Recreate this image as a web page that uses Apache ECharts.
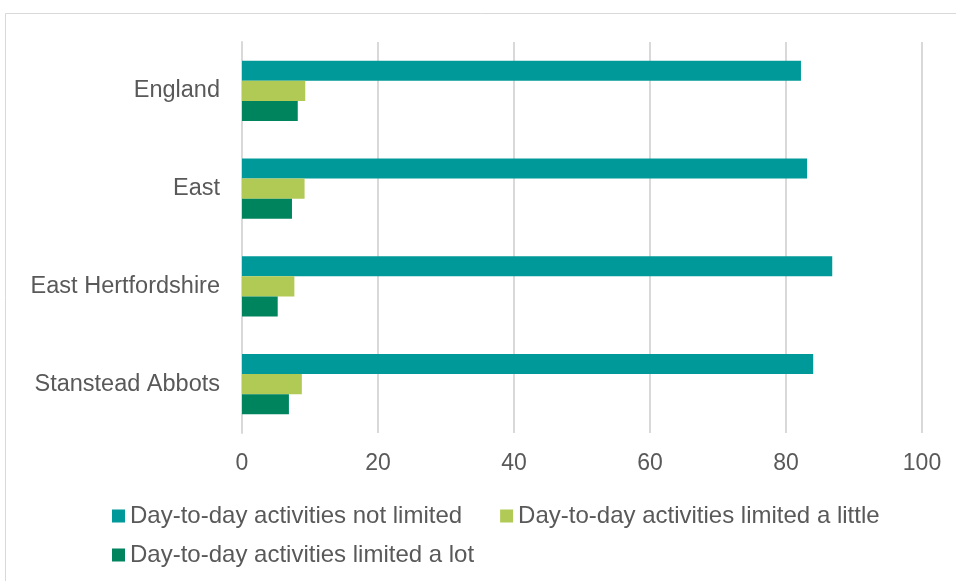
<!DOCTYPE html>
<html><head><meta charset="utf-8">
<script src="https://cdn.jsdelivr.net/npm/echarts@6/dist/echarts.min.js"></script>
<style>html,body{margin:0;padding:0;background:#fff}#c{width:956px;height:581px}</style>
</head><body><div id="c"></div>
<script>
var categories = ['England', 'East', 'East Hertfordshire', 'Stanstead Abbots'];
var seriesNames = ['Day-to-day activities not limited', 'Day-to-day activities limited a little', 'Day-to-day activities limited a lot'];
var notLimited = [82.2, 83.1, 86.8, 84.0];
var limitedLittle = [9.3, 9.2, 7.7, 8.8];
var limitedLot = [8.2, 7.35, 5.25, 6.9];
var xTicks = [0, 20, 40, 60, 80, 100];
var colors = ['#009999', '#b1ca55', '#00845e'];

var chart = echarts.init(document.getElementById('c'));
var font = '"Liberation Sans", Arial, sans-serif';
var legendText = {fontSize: 24, color: '#595959', fontFamily: font};
chart.setOption({
  animation: false,
  textStyle: {fontFamily: font},
  graphic: [{type: 'rect', shape: {x: 5.5, y: 13.5, width: 1000, height: 1000}, style: {fill: 'none', stroke: '#d9d9d9', lineWidth: 1}}],
  grid: {left: 242, right: 34, top: 42, bottom: 148},
  legend: [{
    left: 107, top: 499, itemWidth: 13, itemHeight: 13, itemGap: 38,
    icon: 'rect', textStyle: legendText,
    data: [seriesNames[0], seriesNames[1]]
  }, {
    left: 107, top: 538, itemWidth: 13, itemHeight: 13, itemGap: 38,
    icon: 'rect', textStyle: legendText,
    data: [seriesNames[2]]
  }],
  xAxis: {
    type: 'value', min: xTicks[0], max: xTicks[xTicks.length - 1], interval: 20,
    axisLine: {show: false}, axisTick: {show: false},
    splitLine: {lineStyle: {color: '#d9d9d9', width: 2}},
    axisLabel: {fontSize: 23, color: '#595959', margin: 19}
  },
  yAxis: {
    type: 'category', data: categories, inverse: true,
    axisLine: {lineStyle: {color: '#d9d9d9', width: 2}}, axisTick: {show: false},
    axisLabel: {fontSize: 23.5, color: '#595959', margin: 22}
  },
  series: [
    {name: seriesNames[0], type: 'bar', data: notLimited, itemStyle: {color: colors[0]}, barGap: '0%', barCategoryGap: '38.6%'},
    {name: seriesNames[1], type: 'bar', data: limitedLittle, itemStyle: {color: colors[1]}},
    {name: seriesNames[2], type: 'bar', data: limitedLot, itemStyle: {color: colors[2]}}
  ]
});
</script></body></html>
